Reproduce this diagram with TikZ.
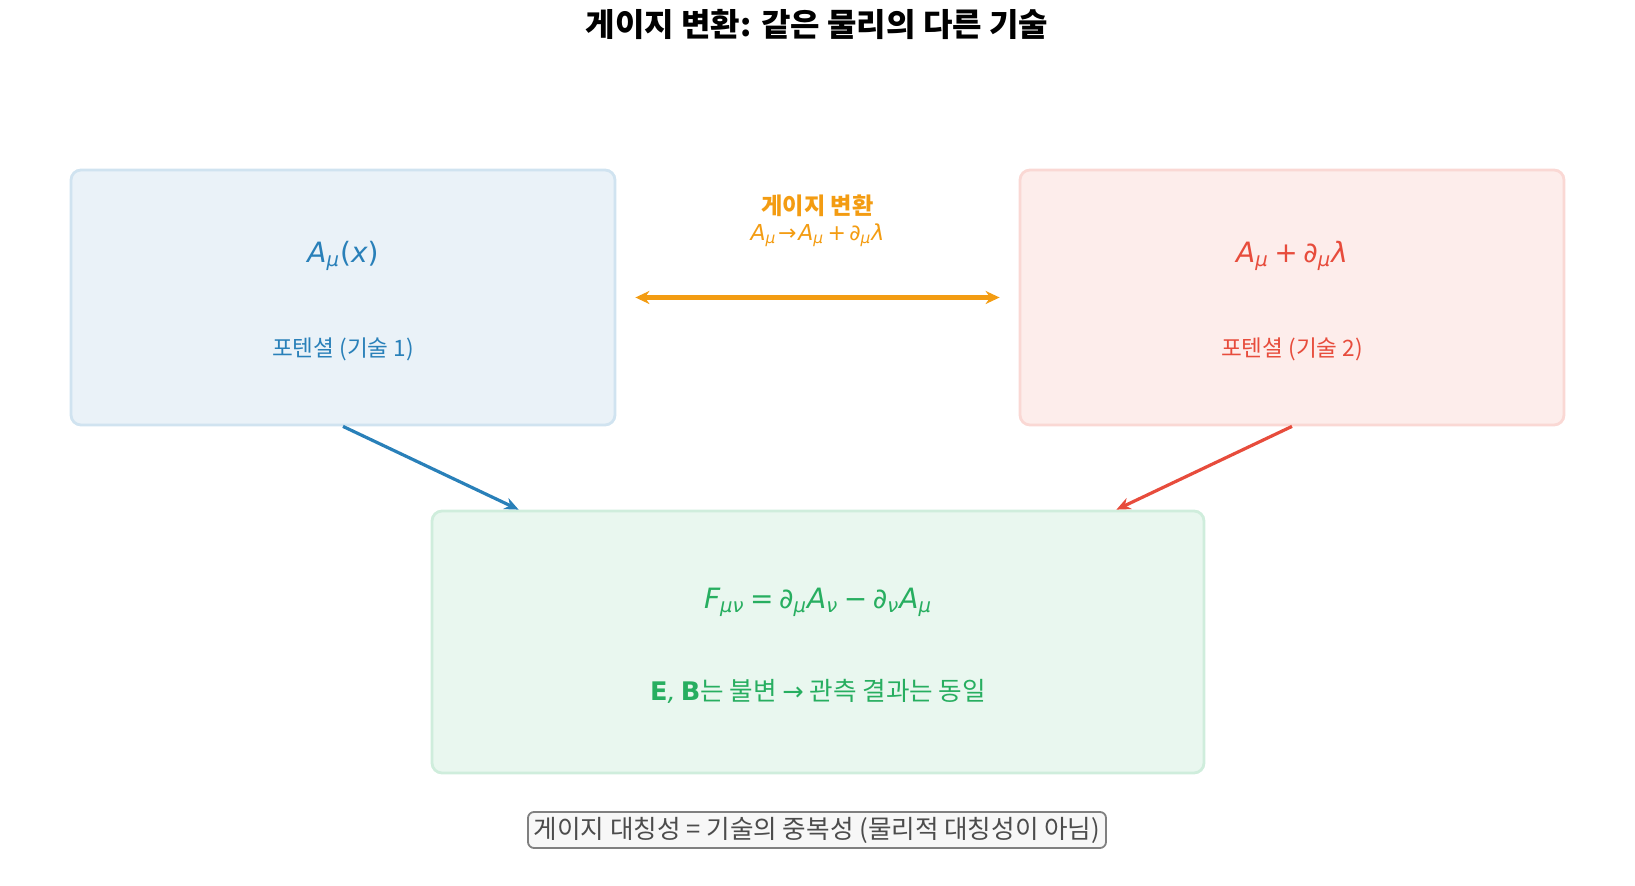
\documentclass[tikz,border=0pt]{standalone}
\usepackage{fontspec}
\setmainfont{Noto Sans CJK KR}
\newfontfamily\dvfont{DejaVu Sans}
\usetikzlibrary{positioning,arrows.meta,calc}
\definecolor{potblue}{HTML}{2980B9}
\definecolor{potred}{HTML}{E74C3C}
\definecolor{fieldgreen}{HTML}{27AE60}
\definecolor{gaugeorange}{HTML}{F39C12}
\newcommand{\vi}[1]{{\dvfont\itshape #1}}
\newcommand{\lo}[1]{\textsubscript{\dvfont\itshape #1}}
\newcommand{\up}[1]{{\dvfont #1}}

\begin{document}
\begin{tikzpicture}[
  x=0.5pt, y=-0.5pt,
  panel/.style={rectangle, rounded corners=5pt, line width=1.4pt,
                minimum width=272pt, minimum height=127.5pt},
  formula/.style={font=\fontsize{14}{16}\selectfont},
  caption/.style={font=\fontsize{11.3}{13}\selectfont},
  arr/.style={-{Stealth[length=7pt, width=6pt]}, line width=1.6pt},
  darr/.style={{Stealth[length=7pt, width=6.5pt]}-{Stealth[length=7pt, width=6.5pt]},
               line width=2.2pt, shorten <=9.5pt, shorten >=9.5pt},
]
  \useasboundingbox (0,0) rectangle (1635,886);

  % Title
  \node[font=\fontsize{16}{19}\selectfont\bfseries] (title) at (817,24)
    {게이지 변환: 같은 물리의 다른 기술};

  % Two descriptions
  \node[panel, draw=potblue!22, fill=potblue!10] (desc1) at (343,297.5) {};
  \node[panel, draw=potred!22, fill=potred!10] (desc2) at (1292,297.5) {};
  \node[formula, text=potblue] (pot1) at ($(desc1.center)+(0,-41.5)$)
    {\vi{A}\lo{μ}\up{(}\vi{x}\up{)}};
  \node[caption, text=potblue] (lab1) at ($(desc1.center)+(0,51.5)$)
    {포텐셜 (기술 1)};
  \node[formula, text=potred] (pot2) at ($(desc2.center)+(0,-41.5)$)
    {\vi{A}\lo{μ}\hspace{0.2em}\up{+}\hspace{0.2em}\vi{∂}\lo{μ}\vi{λ}};
  \node[caption, text=potred] (lab2) at ($(desc2.center)+(0,51.5)$)
    {포텐셜 (기술 2)};

  % Gauge transformation
  \draw[darr, gaugeorange] (desc1) -- (desc2);
  \node[font=\fontsize{11.6}{13}\selectfont\bfseries, text=gaugeorange] (gname)
    at ($(desc1.east)!0.5!(desc2.west)+(0,-92)$) {게이지 변환};
  \node[caption, font=\fontsize{11}{13}\selectfont, text=gaugeorange] (grule)
    at ($(desc1.east)!0.5!(desc2.west)+(0,-62)$)
    {\vi{A}\lo{μ}\hspace{0.08em}\up{→}\hspace{0.08em}\vi{A}\lo{μ}\hspace{0.15em}\up{+}\hspace{0.15em}\vi{∂}\lo{μ}\vi{λ}};

  % Field strength
  \node[panel, draw=fieldgreen!22, fill=fieldgreen!10,
        minimum width=386pt, minimum height=131pt] (field) at (818,642) {};
  \node[formula, text=fieldgreen] (fmn) at ($(field.center)+(0,-40)$)
    {\vi{F}\lo{μν}\hspace{0.2em}\up{=}\hspace{0.2em}\vi{∂}\lo{μ}\vi{A}\lo{ν}\hspace{0.2em}\up{−}\hspace{0.2em}\vi{∂}\lo{ν}\vi{A}\lo{μ}};
  \node[font=\fontsize{12.8}{15}\selectfont, text=fieldgreen] (inv) at ($(field.center)+(0,49)$)
    {{\dvfont\bfseries E}\vi{,}\hspace{0.2em}{\dvfont\bfseries B}는 불변 {\dvfont →} 관측 결과는 동일};

  % Both potentials give the same field
  \draw[arr, potblue] (desc1.south) -- ($(field.north west)+(88,0)$);
  \draw[arr, potred] (desc2.south) -- ($(field.north east)+(-89,0)$);

  % Note
  \node[draw=black!50, fill=gray!6, rounded corners=3pt, line width=0.9pt,
        text=black!70, font=\fontsize{12.8}{15}\selectfont,
        minimum width=289pt, minimum height=18pt, inner sep=1pt] (note) at (817,830)
    {게이지 대칭성 = 기술의 중복성 (물리적 대칭성이 아님)};
\end{tikzpicture}
\end{document}
